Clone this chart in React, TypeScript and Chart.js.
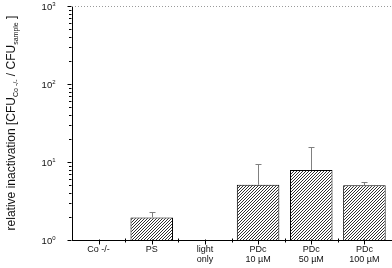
import React, { useEffect, useRef } from "react";
import { Chart, registerables } from "chart.js";

Chart.register(...registerables);

const categories: string[][] = [["Co -/-"], ["PS"], ["light", "only"], ["PDc", "10 µM"], ["PDc", "50 µM"], ["PDc", "100 µM"]];
const values: (number | null)[] = [null, 1.95, null, 5.1, 7.9, 5.05];
const errorsUp: (number | null)[] = [null, 0.32, null, 4.3, 7.5, 0.55];
const majorTicks: number[] = [1, 10, 100, 1000];
const majorExponents: string[] = ["0", "1", "2", "3"];
const FONT = "Arial, 'Liberation Sans', sans-serif";

function makeHatch(): CanvasPattern | string {
  const n = 3;
  const c = document.createElement("canvas");
  c.width = n;
  c.height = n;
  const g = c.getContext("2d");
  if (!g) return "#888";
  g.fillStyle = "#ffffff";
  g.fillRect(0, 0, n, n);
  g.fillStyle = "#303030";
  for (let i = 0; i < n; i++) {
    g.fillRect(n - 1 - i, i, 1, 1);
  }
  const p = g.createPattern(c, "repeat");
  return p || "#888";
}

const decorPlugin = {
  id: "decor",
  afterDatasetsDraw(chart: any) {
    const ctx = chart.ctx;
    const x = chart.scales.x;
    const y = chart.scales.y;
    ctx.save();
    ctx.strokeStyle = "#808080";
    ctx.lineWidth = 1;
    values.forEach((v, i) => {
      const e = errorsUp[i];
      if (v == null || e == null) return;
      const cx = Math.round(x.getPixelForValue(i)) + 0.5;
      const y0 = y.getPixelForValue(v);
      const y1 = Math.round(y.getPixelForValue(v + e)) + 0.5;
      ctx.beginPath();
      ctx.moveTo(cx, y0);
      ctx.lineTo(cx, y1);
      ctx.moveTo(cx - 3, y1);
      ctx.lineTo(cx + 3, y1);
      ctx.stroke();
    });
    ctx.restore();
  },
  afterDraw(chart: any) {
    const ctx = chart.ctx;
    const x = chart.scales.x;
    const y = chart.scales.y;
    const area = chart.chartArea;
    ctx.save();
    // dotted top line
    ctx.strokeStyle = "#9a9a9a";
    ctx.lineWidth = 1;
    ctx.setLineDash([1, 2]);
    const ty = Math.round(y.getPixelForValue(1000)) + 0.5;
    ctx.beginPath();
    ctx.moveTo(area.left, ty);
    ctx.lineTo(area.right, ty);
    ctx.stroke();
    ctx.setLineDash([]);

    // y ticks
    ctx.strokeStyle = "#000";
    const ax = Math.round(area.left) - 0.5;
    for (let d = 0; d < 3; d++) {
      for (let m = 2; m <= 9; m++) {
        const py = Math.round(y.getPixelForValue(m * Math.pow(10, d))) + 0.5;
        ctx.beginPath();
        ctx.moveTo(ax - 2.5, py);
        ctx.lineTo(ax, py);
        ctx.stroke();
      }
    }
    ctx.fillStyle = "#111";
    majorTicks.forEach((t, i) => {
      const py = Math.round(y.getPixelForValue(t)) + 0.5;
      ctx.beginPath();
      ctx.moveTo(ax - 4, py);
      ctx.lineTo(ax, py);
      ctx.stroke();
      ctx.font = `6px ${FONT}`;
      ctx.textAlign = "right";
      ctx.textBaseline = "alphabetic";
      const supW = ctx.measureText(majorExponents[i]).width;
      const rightEdge = ax - 16;
      ctx.fillText(majorExponents[i], rightEdge, py - 1);
      ctx.font = `9.5px ${FONT}`;
      ctx.fillText("10", rightEdge - supW, py + 3.5);
    });

    // x ticks
    const by = Math.round(area.bottom) + 0.5;
    categories.forEach((_, i) => {
      const cx = Math.round(x.getPixelForValue(i)) + 0.5;
      ctx.beginPath();
      ctx.moveTo(cx, by - 1);
      ctx.lineTo(cx, by + 4);
      ctx.stroke();
      if (i > 0) {
        const bx = Math.round((x.getPixelForValue(i) + x.getPixelForValue(i - 1)) / 2) + 0.5;
        ctx.beginPath();
        ctx.moveTo(bx, by - 2);
        ctx.lineTo(bx, by + 2);
        ctx.stroke();
      }
    });
    // x labels
    ctx.font = `9px ${FONT}`;
    ctx.textAlign = "center";
    ctx.textBaseline = "top";
    ctx.fillStyle = "#111";
    categories.forEach((lines, i) => {
      const cx = x.getPixelForValue(i);
      lines.forEach((ln, j) => {
        ctx.fillText(ln, cx, 245 + j * 10.5);
      });
    });

    // y title with subscripts
    const parts: { t: string; sub: boolean }[] = [
      { t: "relative inactivation [CFU", sub: false },
      { t: "Co -/-", sub: true },
      { t: " / CFU", sub: false },
      { t: "sample", sub: true },
      { t: " ]", sub: false },
    ];
    const mainFont = `12px ${FONT}`;
    const subFont = `7px ${FONT}`;
    let total = 0;
    const widths = parts.map((p) => {
      ctx.font = p.sub ? subFont : mainFont;
      const w = ctx.measureText(p.t).width;
      total += w;
      return w;
    });
    const centerY = (area.top + area.bottom) / 2;
    ctx.translate(15, centerY);
    ctx.rotate(-Math.PI / 2);
    ctx.textAlign = "left";
    ctx.textBaseline = "alphabetic";
    ctx.fillStyle = "#111";
    let px = -total / 2;
    parts.forEach((p, i) => {
      ctx.font = p.sub ? subFont : mainFont;
      ctx.fillText(p.t, px, p.sub ? 3 : 0);
      px += widths[i];
    });
    ctx.restore();
  },
};

export default function App() {
  const ref = useRef<HTMLCanvasElement | null>(null);
  useEffect(() => {
    if (!ref.current) return;
    const hatch = makeHatch();
    const chart = new Chart(ref.current, {
      type: "bar",
      data: {
        labels: categories.map((c) => c.join(" ")),
        datasets: [
          {
            data: values as any,
            backgroundColor: hatch as any,
            borderColor: "#000",
            borderWidth: 1,
            barPercentage: 0.8,
            categoryPercentage: 1,
          },
        ],
      },
      options: {
        animation: false,
        responsive: false,
        devicePixelRatio: 1,
        layout: { padding: { left: 0, right: 1, top: 6, bottom: 0 } },
        plugins: { legend: { display: false }, tooltip: { enabled: false } },
        scales: {
          x: {
            offset: true,
            grid: { display: false },
            ticks: { display: false },
            border: { display: true, color: "#000", width: 1 },
            afterFit: (s: any) => {
              s.height = 28;
            },
          },
          y: {
            type: "logarithmic",
            min: 1,
            max: 1000,
            grid: { display: false },
            ticks: { display: false },
            border: { display: true, color: "#000", width: 1 },
            afterFit: (s: any) => {
              s.width = 72;
            },
          },
        },
      },
      plugins: [decorPlugin],
    });
    return () => chart.destroy();
  }, []);
  return (
    <div style={{ position: "absolute", left: 0, top: 0, width: 392, height: 268, background: "#fff" }}>
      <canvas ref={ref} width={392} height={268} />
    </div>
  );
}
